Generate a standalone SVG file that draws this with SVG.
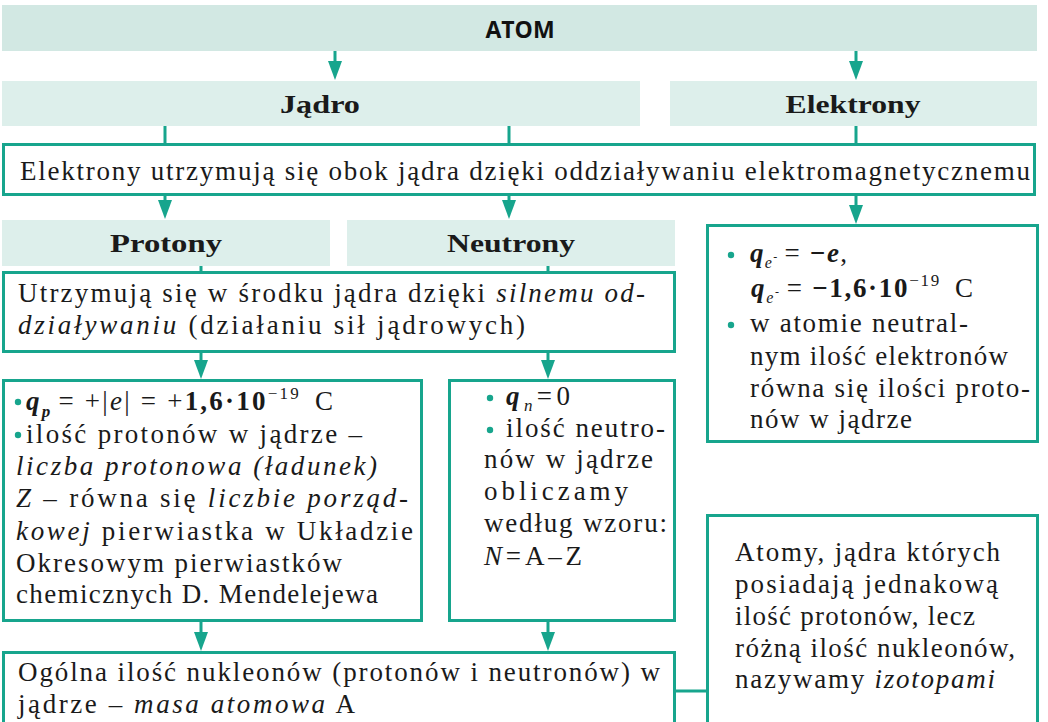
<svg xmlns="http://www.w3.org/2000/svg" width="1048" height="722" viewBox="0 0 1048 722">
<style>
.bar{fill:#d2e8e3}
.bar2{fill:#ddefeb}
.box{fill:#ffffff;stroke:#17a58d;stroke-width:3}
.conn{stroke:#17a58d;stroke-width:3;fill:none}
.dot{fill:#17a58d}
.t{font-family:"Liberation Serif","Times New Roman",serif;font-size:27px;fill:#1a1a1a}
.h{font-family:"Liberation Serif","Times New Roman",serif;font-size:25px;font-weight:bold;fill:#1a1a1a;text-anchor:middle}
.s{font-family:"Open Sans","Liberation Sans",sans-serif;font-size:23px;font-weight:bold;fill:#111;text-anchor:middle}
.i{font-style:italic}
.b{font-weight:bold}
.bi{font-weight:bold;font-style:italic}
</style>
<defs>
<marker id="tri" markerUnits="userSpaceOnUse" markerWidth="14" markerHeight="19" refX="7" refY="0" orient="0" viewBox="0 0 14 19">
<path d="M0,0 L14,0 L7,19 Z" fill="#17a58d"/>
</marker>
</defs>

<g id="connectors">
<path class="conn" d="M335,51 V61" marker-end="url(#tri)"/>
<path class="conn" d="M856,51 V61" marker-end="url(#tri)"/>
<path class="conn" d="M165,126 V144"/>
<path class="conn" d="M509,126 V144"/>
<path class="conn" d="M856,126 V144"/>
<path class="conn" d="M165,195 V200" marker-end="url(#tri)"/>
<path class="conn" d="M509,195 V200" marker-end="url(#tri)"/>
<path class="conn" d="M856,195 V205" marker-end="url(#tri)"/>
<path class="conn" d="M201,266 V272"/>
<path class="conn" d="M548,266 V272"/>
<path class="conn" d="M201,352 V360" marker-end="url(#tri)"/>
<path class="conn" d="M548,352 V360" marker-end="url(#tri)"/>
<path class="conn" d="M201,621 V632" marker-end="url(#tri)"/>
<path class="conn" d="M548,621 V632" marker-end="url(#tri)"/>
<path class="conn" d="M675,691 H707"/>
</g>

<g id="atom">
<rect class="bar" x="2" y="5" width="1035" height="46"/>
<text class="s" x="520" y="38">ATOM</text>
</g>

<g id="jadro">
<rect class="bar2" x="2" y="81" width="638" height="45"/>
<text class="h" x="320" y="113" textLength="80" lengthAdjust="spacingAndGlyphs">Jądro</text>
</g>

<g id="elektrony">
<rect class="bar2" x="670" y="81" width="367" height="45"/>
<text class="h" x="853" y="113" textLength="135" lengthAdjust="spacingAndGlyphs">Elektrony</text>
</g>

<g id="oddzialywanie-em">
<rect class="box" x="3.5" y="144.5" width="1031" height="50"/>
<text class="t" x="20" y="180" textLength="1010" lengthAdjust="spacing">Elektrony utrzymują się obok jądra dzięki oddziaływaniu elektromagnetycznemu</text>
</g>

<g id="protony">
<rect class="bar2" x="2" y="220" width="328" height="46"/>
<text class="h" x="166" y="252" textLength="112" lengthAdjust="spacingAndGlyphs">Protony</text>
</g>

<g id="neutrony">
<rect class="bar2" x="347" y="220" width="328" height="46"/>
<text class="h" x="511" y="252" textLength="128" lengthAdjust="spacingAndGlyphs">Neutrony</text>
</g>

<g id="oddzialywanie-silne">
<rect class="box" x="3.5" y="272.5" width="671" height="79"/>
<text class="t" x="18" y="302" textLength="627" lengthAdjust="spacing">Utrzymują się w środku jądra dzięki <tspan class="i">silnemu od-</tspan></text>
<text class="t" x="18" y="334" textLength="507" lengthAdjust="spacing"><tspan class="i">działywaniu</tspan> (działaniu sił jądrowych)</text>
</g>

<g id="elektron-info">
<rect class="box" x="707.5" y="225.5" width="330" height="216"/>
<circle class="dot" cx="731" cy="255" r="3.2"/>
<text class="t" x="750" y="262" textLength="97" lengthAdjust="spacing"><tspan class="bi">q</tspan><tspan class="i" font-size="16" dy="6">e</tspan><tspan font-size="12" dy="-7">-</tspan><tspan dy="1" dx="6">= </tspan><tspan class="bi">−e</tspan>,</text>
<text class="t" x="751" y="297" textLength="222" lengthAdjust="spacing"><tspan class="bi">q</tspan><tspan class="i" font-size="16" dy="6">e</tspan><tspan font-size="12" dy="-7">-</tspan><tspan dy="1" dx="6">= </tspan><tspan class="b">−1,6·10</tspan><tspan font-size="17" dy="-11">−19</tspan><tspan dy="11" dx="14">C</tspan></text>
<circle class="dot" cx="731" cy="325" r="3.2"/>
<text class="t" x="750" y="332" textLength="218" lengthAdjust="spacing">w atomie neutral-</text>
<text class="t" x="750" y="365" textLength="258" lengthAdjust="spacing">nym ilość elektronów</text>
<text class="t" x="750" y="397" textLength="280" lengthAdjust="spacing">równa się ilości proto-</text>
<text class="t" x="750" y="428" textLength="162" lengthAdjust="spacing">nów w jądrze</text>
</g>

<g id="protony-info">
<rect class="box" x="3.5" y="380.5" width="418" height="240"/>
<circle class="dot" cx="18" cy="402" r="3.2"/>
<text class="t" x="26" y="410" textLength="307" lengthAdjust="spacing"><tspan class="bi">q</tspan><tspan class="bi" font-size="17" dy="7">p</tspan><tspan dy="-7" dx="6">= +|</tspan><tspan class="i">e</tspan><tspan>| = +</tspan><tspan class="b">1,6·10</tspan><tspan font-size="17" dy="-11">−19</tspan><tspan dy="11" dx="14">C</tspan></text>
<circle class="dot" cx="18" cy="435" r="3.2"/>
<text class="t" x="26" y="443" textLength="336" lengthAdjust="spacing">ilość protonów w jądrze –</text>
<text class="t i" x="16" y="475" textLength="361" lengthAdjust="spacing">liczba protonowa (ładunek)</text>
<text class="t" x="16" y="507" textLength="392" lengthAdjust="spacing"><tspan class="i">Z</tspan> – równa się <tspan class="i">liczbie porząd-</tspan></text>
<text class="t" x="16" y="540" textLength="397" lengthAdjust="spacing"><tspan class="i">kowej</tspan> pierwiastka w Układzie</text>
<text class="t" x="16" y="572" textLength="326" lengthAdjust="spacing">Okresowym pierwiastków</text>
<text class="t" x="16" y="603" textLength="362" lengthAdjust="spacing">chemicznych D. Mendelejewa</text>
</g>

<g id="neutrony-info">
<rect class="box" x="449.5" y="380.5" width="225" height="240"/>
<circle class="dot" cx="490" cy="398" r="3.2"/>
<text class="t" x="506" y="405" textLength="64" lengthAdjust="spacing"><tspan class="bi">q</tspan><tspan class="i" font-size="17" dy="6">n</tspan><tspan dy="-6">=0</tspan></text>
<circle class="dot" cx="490" cy="430" r="3.2"/>
<text class="t" x="506" y="437" textLength="159" lengthAdjust="spacing">ilość neutro-</text>
<text class="t" x="484" y="468" textLength="169" lengthAdjust="spacing">nów w jądrze</text>
<text class="t" x="484" y="500" textLength="144" lengthAdjust="spacing">obliczamy</text>
<text class="t" x="484" y="532" textLength="183" lengthAdjust="spacing">według wzoru:</text>
<text class="t" x="484" y="565" textLength="98" lengthAdjust="spacing"><tspan class="i">N</tspan>=A–Z</text>
</g>

<g id="masa-atomowa">
<rect class="box" x="3.5" y="652.5" width="671" height="80"/>
<text class="t" x="18" y="681" textLength="642" lengthAdjust="spacing">Ogólna ilość nukleonów (protonów i neutronów) w</text>
<text class="t" x="18" y="713" textLength="337" lengthAdjust="spacing">jądrze – <tspan class="i">masa atomowa</tspan> A</text>
</g>

<g id="izotopy">
<rect class="box" x="707.5" y="515.5" width="330" height="220"/>
<text class="t" x="735" y="561" textLength="265" lengthAdjust="spacing">Atomy, jądra których</text>
<text class="t" x="735" y="593" textLength="263" lengthAdjust="spacing">posiadają jednakową</text>
<text class="t" x="735" y="625" textLength="240" lengthAdjust="spacing">ilość protonów, lecz</text>
<text class="t" x="735" y="657" textLength="280" lengthAdjust="spacing">różną ilość nukleonów,</text>
<text class="t" x="735" y="688" textLength="260" lengthAdjust="spacing">nazywamy <tspan class="i">izotopami</tspan></text>
</g>
</svg>
